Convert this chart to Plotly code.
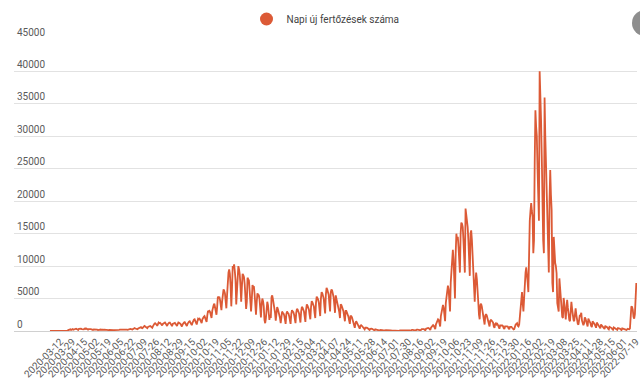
import plotly.graph_objects as go

# ---- tick labels (every 17th category, first at position 15) ----
tick_labels = ["2020-03-12","2020-03-29","2020-04-15","2020-05-02","2020-05-19","2020-06-05",
    "2020-06-22","2020-07-09","2020-07-26","2020-08-12","2020-08-29","2020-09-15","2020-10-02",
    "2020-10-19","2020-11-05","2020-11-22","2020-12-09","2020-12-26","2021-01-12","2021-01-29",
    "2021-02-15","2021-03-04","2021-03-21","2021-04-07","2021-04-24","2021-05-11","2021-05-28",
    "2021-06-14","2021-07-01","2021-07-30","2021-08-16","2021-09-02","2021-09-19","2021-10-06",
    "2021-10-23","2021-11-09","2021-11-26","2021-12-13","2021-12-30","2022-01-16","2022-02-02",
    "2022-02-19","2022-03-08","2022-03-25","2022-04-11","2022-04-28","2022-05-15","2022-06-01",
    "2022-07-19"]
first_label_pos = 15
label_step = 17

y_ticks = [0, 5000, 10000, 15000, 20000, 25000, 30000, 35000, 40000, 45000]

# ---- daily new infections ----
wave_2020_spring_summer = [
    1,0,0,0,0,0,0, 2,0,2,0,0,2,2, 14,11,19,8,29,48,26, 50,31,32,59,66,143,186,
    144,263,160,308,293,192,254, 235,315,346,298,190,160,330, 330,440,350,300,280,245,250,
    360,305,400,290,230,210,300, 330,280,300,240,180,170,250, 250,250,270,210,200,150,200,
    240,220,230,190,160,150,190, 210,180,190,150,130,110,150, 160,140,150,130,100,90,140,
    150,140,160,130,120,90,150, 180,200,210,170,150,130,180, 220,240,260,240,210,180,250,
    290,320,330,300,260,230,330, 420,460,390,350,300,270,380, 430,470,550,600,460,420,550,
    700,780,700,650,550,440,640, 720,800,770,690,610,500,750, 1000,1100,1200,1120,980,800,1200,
    1300,1200,1250,1150,1050,850,1100, 1200,1250,1300,1150,1000,780,1050, 1250,1300,1300,1150,1000,750,1100,
    1150,1200,1250,1100,950,780,1050, 1300,1250,1200,1100,880,700,1000, 1250,1300,1350,1150,950,780,1100,
]
wave_2020_autumn = [
    1400,1450,1500,1300,1100,900,1250, 1700,1750,1800,1600,1350,1000,1500,
    1900,1800,1900,1700,1400,1200,1800, 2150,2200,2300,2000,1600,1400,2400,
    3100,3000,3100,2900,2400,2000,3100, 3900,4000,4200,3600,3000,2500,3800,
    5300,5000,5300,4800,4000,3200,4600, 5900,6400,6200,5800,4600,3500,5500,
    8650,9000,9500,8800,6900,3800,6500, 10000,9700,10270,9200,7800,4100,6900,
    9900,10000,9500,8700,7000,4500,6700, 8800,8600,8300,7200,5600,3400,4500,
    8200,8000,7800,6600,5000,3000,4700, 7100,6800,6900,5700,4000,2500,4400,
    5800,5600,5500,4900,3700,2100,4100, 5000,4600,3800,1700,1200,1900,3600,
    4500,4000,2500,1700,2500,2000,5200,
]
wave_2021_spring = [
    5500,4900,4300,3800,2800,1600,3300, 3700,3400,3000,2700,2000,1200,2700,
    3000,2800,2700,2400,1800,1100,2600, 3000,2800,2700,2300,1700,1100,2600,
    3200,3000,2900,2500,1800,1200,2800, 3400,3300,3100,2700,2000,1300,3000,
    3700,3600,3400,3000,2200,1400,3300, 4100,3900,3700,3300,2500,1800,3700,
    4600,4400,4200,3800,2800,2000,4300, 5300,5100,4900,4400,3300,2300,5000,
    6000,5800,5500,5000,3700,2700,5600, 6650,6400,6100,5600,4200,3000,6000,
    6400,6200,5800,5200,4000,2800,5500, 5000,4700,4400,3900,2900,2000,4100,
    4000,3700,3400,3000,2200,1500,3100, 3100,2800,2600,2200,1600,1100,2300,
    2300,2100,1700,1100,700,500,1200, 1500,1300,1100,900,600,350,800,
    900,800,700,550,400,250,500, 550,500,450,350,250,150,330,
    400,350,300,230,150,90,250, 250,220,200,150,100,60,150,
    170,150,130,100,70,40,100, 120,100,90,70,50,30,80,
    90,80,70,55,40,25,60, 70,65,
]
summer_2021 = [70,60,45,30,75,70,65,50,35,80,85,90,70,40,100,110]
wave_2021_autumn = [
    130,120,90,50,150,160,170, 180,160,110,60,170,200,220, 230,200,140,80,240,280,300,
    330,300,200,110,340,400,430, 480,430,280,160,520,650,750, 900,800,500,300,1000,1300,1500,
    1800,1700,1100,700,2300,3000,3500, 4000,3600,2300,1500,4300,5300,6000,
    7000,6400,4000,3000,7500,9500,12000, 12500,11000,7500,5000,12000,15000,14000,
    14500,13000,9000,9000,15000,16700,16500, 16000,14000,9500,9000,18863,18000,17500,
    16000,14000,9000,8500,15000,15500,14000, 11000,10000,6000,4500,7500,9000,8000,
    5000,4500,2500,1800,4000,4200,3800, 3000,2700,1500,1000,2400,2600,2400,
    2000,1800,1000,700,1600,1700,1600, 1500,1300,700,500,1100,1200,1000,
    1100,900,500,350,850,900,850, 850,750,450,300,700,750,700,
    700,650,400,280,650,700,650, 500,350,250,300,800,1000,1100,
]
wave_2022_omicron = [
    1200,800,700,1000,2500,4500,5800, 6000,4300,3000,5000,8300,9000,9800,
    9000,7500,6000,16600,17000,18500,19700, 18500,17600,12000,14000,26000,34000,31500,
    30000,25000,19700,17000,40018,37000,32500, 27000,16300,14000,12000,36000,30000,26300,
    21000,18600,12000,9000,20000,24800,21000, 18600,7400,6000,14500,12000,10500,10000,
    8900,4300,3200,3000,8100,6500,5000, 2800,2200,2000,5100,4200,2000,1800,
    3500,4800,3600,2400,1700,1500,3800, 4500,3400,2300,1700,1500,2800,3500,
    2500,1200,1100,1000,2200,2500,2400, 2800,1600,1000,900,1200,
]
spring_summer_2022 = [
    2100,1900,1500,900,700,1900,1700, 1400,1200,800,600,1500,1400,1200,
    1000,700,500,1300,1100,1000,850, 550,400,1000,900,800,700,450,
    300,800,700,650,550,350,250, 650,600,550,450,300,200,550,
    500,450,400,250,180,450,420, 400,350,220,150,400,380,350, 330,
    300,200,150,350,330,300,280,400,3600,3800,3700,3300,2200,1900,2600,5000,7400,
]

values = (wave_2020_spring_summer + wave_2020_autumn + wave_2021_spring + summer_2021
          + wave_2021_autumn + wave_2022_omicron + spring_summer_2022)
positions = list(range(len(values)))
tick_positions = [first_label_pos + label_step * k for k in range(len(tick_labels))]

series_name = "Napi új fertőzések száma"
line_color = "#DC5A36"

fig = go.Figure()
fig.add_trace(go.Scatter(x=positions, y=values, mode="lines",
                         line=dict(color=line_color, width=1.8),
                         showlegend=False, hoverinfo="x+y"))
fig.add_trace(go.Scatter(x=[None], y=[None], mode="markers", name=series_name,
                         marker=dict(color=line_color, size=13, symbol="circle")))

L, R, T, B = 14, 3, 39, 54
plot_w = 640 - L - R
plot_h = 385 - T - B
px_per_cat = 0.7064
x_left = -(50 - L) / px_per_cat
x_right = x_left + plot_w / px_per_cat + 1.0

fig.update_layout(
    width=640, height=385,
    margin=dict(l=L, r=R, t=T, b=B, autoexpand=False),
    paper_bgcolor="white", plot_bgcolor="white",
    font=dict(family="Roboto, Arial, sans-serif", color="#5a5a5a", size=10),
    showlegend=True,
    legend=dict(orientation="h", x=0.5, xanchor="center", y=1 + 20 / plot_h, yanchor="middle",
                font=dict(size=10, color="#444444"), itemwidth=30),
    xaxis=dict(range=[x_left, x_right], tickmode="array", tickvals=tick_positions,
               ticktext=tick_labels, tickangle=-45, showgrid=False, zeroline=False,
               showline=True, linecolor="#d0d0d0", linewidth=1, ticks="",
               ticklabeloverflow="allow",
               automargin=False, tickfont=dict(size=10, color="#5a5a5a")),
    yaxis=dict(range=[0, 45000], tickmode="array", tickvals=y_ticks,
               ticktext=[str(v) for v in y_ticks],
               ticklabelposition="inside top", ticklabeloverflow="allow",
               showgrid=True, gridcolor="#e2e2e2", automargin=False,
               gridwidth=1, zeroline=False, showline=False, ticks="",
               tickfont=dict(size=10, color="#5a5a5a")),
    shapes=[dict(type="circle", xref="paper", yref="paper",
                 x0=(632 - L) / plot_w, x1=(658 - L) / plot_w,
                 y0=(331 - 36) / plot_h, y1=(331 - 10) / plot_h,
                 fillcolor="#8e8e8e", line=dict(width=0), layer="above")],
)

fig.write_html("out.html", config={"displayModeBar": False},
               post_script="document.body.style.margin='0';document.body.style.overflow='hidden';")
